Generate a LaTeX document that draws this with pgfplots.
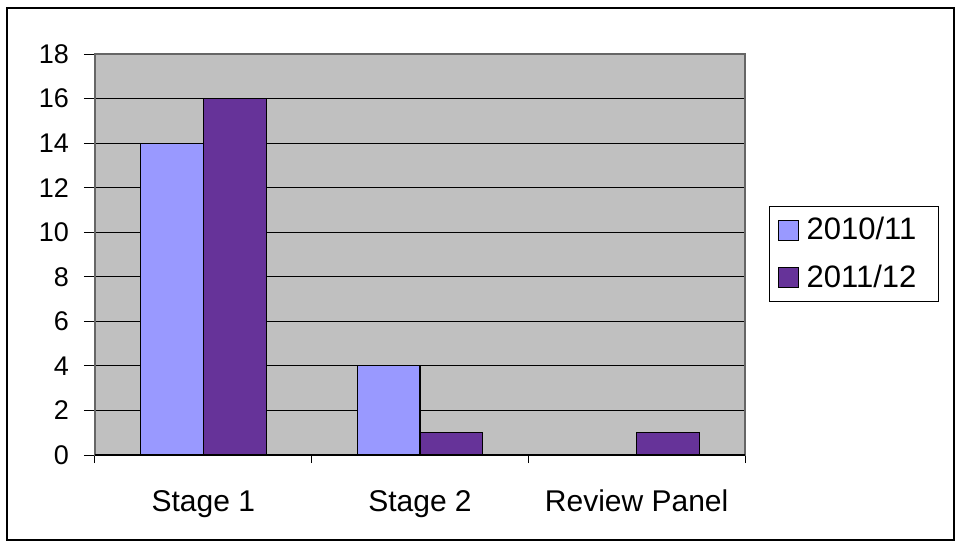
\documentclass[border=0pt]{standalone}
\usepackage{pgfplots}
\pgfplotsset{compat=1.18}
\usepackage{fontspec}
\setmainfont{Liberation Sans}
\definecolor{lightbar}{HTML}{9999FF}
\definecolor{darkbar}{HTML}{663399}
\definecolor{plotbg}{HTML}{C0C0C0}
\begin{document}
\begin{tikzpicture}
\fill[white] (-47.5pt,-43.5pt) rectangle (430.5pt,227.5pt);
\draw[black, line width=0.8pt] (-44pt,-42.5pt) rectangle (429.5pt,223.5pt);
\begin{axis}[
  at={(0,0)}, anchor=south west,
  scale only axis,
  width=325pt, height=200.5pt,
  font=\fontsize{13.5pt}{16pt}\selectfont,
  /pgf/number format/assume math mode=true,
  xmin=-0.5, xmax=2.5,
  ymin=0, ymax=18,
  ytick={0,2,...,18},
  xtick={0,1,2},
  xticklabels={Stage 1, Stage 2, Review Panel},
  minor xtick={-0.5,0.5,1.5,2.5},
  tick pos=left,
  major x tick style={draw=none},
  minor x tick style={black, line width=0.5pt},
  minor tick length=4pt,
  major tick length=5.5pt,
  tick align=outside,
  y tick style={black, line width=0.5pt},
  ymajorgrids,
  major grid style={black, line width=0.5pt},
  axis background/.style={fill=plotbg},
  axis line style={draw=gray!80!black, line width=0.6pt},
  xticklabel style={font=\fontsize{15pt}{18pt}\selectfont, anchor=base, yshift=-22.5pt},
  yticklabel style={xshift=-4pt},
  ybar=0pt,
  bar width=0.29,
  legend style={at={(1.037,0.621)}, anchor=north west, draw=black, line width=0.5pt, font=\fontsize{15.5pt}{18pt}\selectfont, inner xsep=4pt, inner ysep=3.5pt, row sep=7pt, cells={anchor=west}},
  legend image code/.code={\draw[#1, draw=black, line width=0.5pt] (0pt,-5pt) rectangle (10pt,5pt); \path (12pt,0pt);},
  clip=false,
]
\addplot[fill=lightbar, draw=black, line width=0.6pt, bar shift=-0.145] coordinates {(0,14) (1,4) (2,0)};
\addplot[fill=darkbar, draw=black, line width=0.6pt, bar shift=0.145] coordinates {(0,16) (1,1) (2,1)};
\legend{2010/11\rule{5pt}{0pt}, 2011/12\rule{5pt}{0pt}}
\draw[black, line width=0.6pt] (rel axis cs:0,0) -- (rel axis cs:1,0);
\end{axis}
\end{tikzpicture}
\end{document}
